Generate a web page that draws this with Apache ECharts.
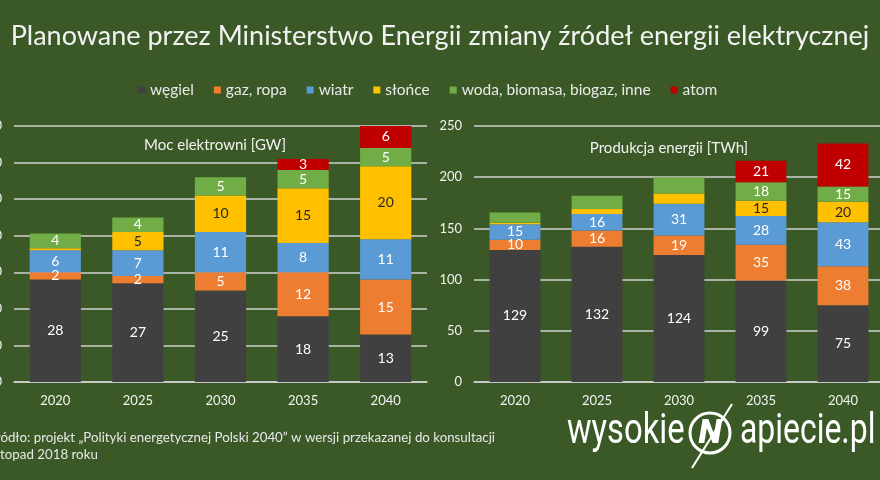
<!DOCTYPE html>
<html>
<head>
<meta charset="utf-8">
<script src="https://cdn.jsdelivr.net/npm/echarts@6/dist/echarts.min.js"></script>
<style>
  html, body { margin: 0; padding: 0; background: #3a5926; }
  #chart { width: 880px; height: 480px; }
</style>
</head>
<body>
<div id="chart"></div>
<script>
// lata
const years = ['2020', '2025', '2030', '2035', '2040'];
const sourceNames = ['węgiel', 'gaz, ropa', 'wiatr', 'słońce', 'woda, biomasa, biogaz, inne', 'atom'];

// Moc elektrowni [GW]
const gwWegiel = [28, 27, 25, 18, 13];
const gwGaz = [2, 2, 5, 12, 15];
const gwWiatr = [6, 7, 11, 8, 11];
const gwSlonce = [0.6, 5, 10, 15, 20];
const gwWoda = [4, 4, 5, 5, 5];
const gwAtom = [0, 0, 0, 3, 6];

// Produkcja energii [TWh]
const twhWegiel = [129, 132, 124, 99, 75];
const twhGaz = [10, 16, 19, 35, 38];
const twhWiatr = [15, 16, 31, 28, 43];
const twhSlonce = [1.5, 5, 10, 15, 20];
const twhWoda = [10, 13, 16, 18, 15];
const twhAtom = [0, 0, 0, 21, 42];

// segmenty bez etykiety (indeksy lat)
const gwUnlabeled = [[], [], [], [0], [], []];
const twhUnlabeled = [[], [], [], [0, 1, 2], [0, 1, 2], []];

const gwTicks = [0, 10, 20, 30, 40, 50, 60, 70];
const twhTicks = [0, 50, 100, 150, 200, 250];

const colorList = ['#404040', '#ED7D31', '#5B9BD5', '#FFC000', '#70AD47', '#C00000'];
const font = 'Lato';

const buildSeries = (values, unlabeled, axisIndex) =>
  values.map((data, i) => ({
    name: sourceNames[i],
    type: 'bar',
    stack: 'total' + axisIndex,
    xAxisIndex: axisIndex,
    yAxisIndex: axisIndex,
    barWidth: '62%',
    itemStyle: { color: colorList[i] },
    label: {
      show: true,
      position: 'inside',
      fontFamily: font,
      fontSize: 14,
      color: i === 3 ? '#262626' : '#ffffff',
      formatter: p => (p.value === 0 || unlabeled[i].includes(p.dataIndex) ? '' : p.value)
    },
    data
  }));

const makeX = gridIndex => ({
  type: 'category',
  gridIndex,
  data: years,
  axisTick: { show: false },
  axisLine: { show: true, lineStyle: { color: '#d0d0d0', width: 1.5 } },
  axisLabel: { color: '#f2f2f2', fontFamily: font, fontSize: 13, margin: 12 }
});

const makeY = (gridIndex, ticks) => ({
  type: 'value',
  gridIndex,
  min: ticks[0],
  max: ticks[ticks.length - 1],
  interval: ticks[1] - ticks[0],
  axisLine: { show: false },
  axisTick: { show: false },
  axisLabel: { color: '#f2f2f2', fontFamily: font, fontSize: 13, margin: 12 },
  splitLine: { lineStyle: { color: '#d0d0d0', width: 1.5 } }
});

const logoFont = '42px Roboto';

const chart = echarts.init(document.getElementById('chart'));
chart.setOption({
  backgroundColor: '#3a5926',
  animation: false,
  title: [
    {
      text: 'Planowane przez Ministerstwo Energii zmiany źródeł energii elektrycznej',
      left: 'center',
      top: 18,
      textStyle: { color: '#f2f2f2', fontFamily: font, fontSize: 27, fontWeight: 'normal' }
    },
    {
      text: 'Moc elektrowni [GW]',
      left: 210,
      textAlign: 'center',
      top: 133,
      textStyle: { color: '#f2f2f2', fontFamily: font, fontSize: 15, fontWeight: 'normal' }
    },
    {
      text: 'Produkcja energii [TWh]',
      left: 664,
      textAlign: 'center',
      top: 136,
      textStyle: { color: '#f2f2f2', fontFamily: font, fontSize: 15, fontWeight: 'normal' }
    }
  ],
  legend: {
    top: 77,
    left: 133,
    icon: 'rect',
    itemWidth: 7,
    itemHeight: 7,
    itemGap: 20,
    textStyle: { color: '#eaeaea', fontFamily: font, fontSize: 15.5 },
    data: sourceNames
  },
  grid: [
    { left: 14, top: 126, width: 413, height: 256, outerBoundsMode: 'none', containLabel: false },
    { left: 474, top: 126, width: 410, height: 256, outerBoundsMode: 'none', containLabel: false }
  ],
  xAxis: [makeX(0), makeX(1)],
  yAxis: [makeY(0, gwTicks), makeY(1, twhTicks)],
  series: [
    ...buildSeries([gwWegiel, gwGaz, gwWiatr, gwSlonce, gwWoda, gwAtom], gwUnlabeled, 0),
    ...buildSeries([twhWegiel, twhGaz, twhWiatr, twhSlonce, twhWoda, twhAtom], twhUnlabeled, 1)
  ],
  graphic: [
    {
      type: 'text',
      left: -12,
      top: 429,
      style: {
        text: 'Źródło: projekt „Polityki energetycznej Polski 2040” w wersji przekazanej do konsultacji\nlistopad 2018 roku',
        fill: '#e8e8e8',
        font: '13.3px Lato',
        lineHeight: 17
      }
    },
    {
      type: 'text',
      x: 567,
      y: 432,
      scaleX: 0.78,
      style: { text: 'wysokie', fill: '#ffffff', font: logoFont, verticalAlign: 'middle' }
    },
    {
      type: 'circle',
      shape: { cx: 710, cy: 433, r: 20 },
      style: { fill: 'none', stroke: '#ffffff', lineWidth: 3 }
    },
    {
      type: 'text',
      x: 710,
      y: 434,
      style: {
        text: 'N',
        fill: '#ffffff',
        font: 'italic 900 34px Roboto',
        align: 'center',
        verticalAlign: 'middle'
      }
    },
    {
      type: 'line',
      shape: { x1: 692, y1: 468, x2: 732, y2: 404 },
      style: { stroke: '#ffffff', lineWidth: 2 }
    },
    {
      type: 'text',
      x: 740,
      y: 432,
      scaleX: 0.76,
      style: { text: 'apiecie.pl', fill: '#ffffff', font: logoFont, verticalAlign: 'middle' }
    }
  ]
});
</script>
</body>
</html>
